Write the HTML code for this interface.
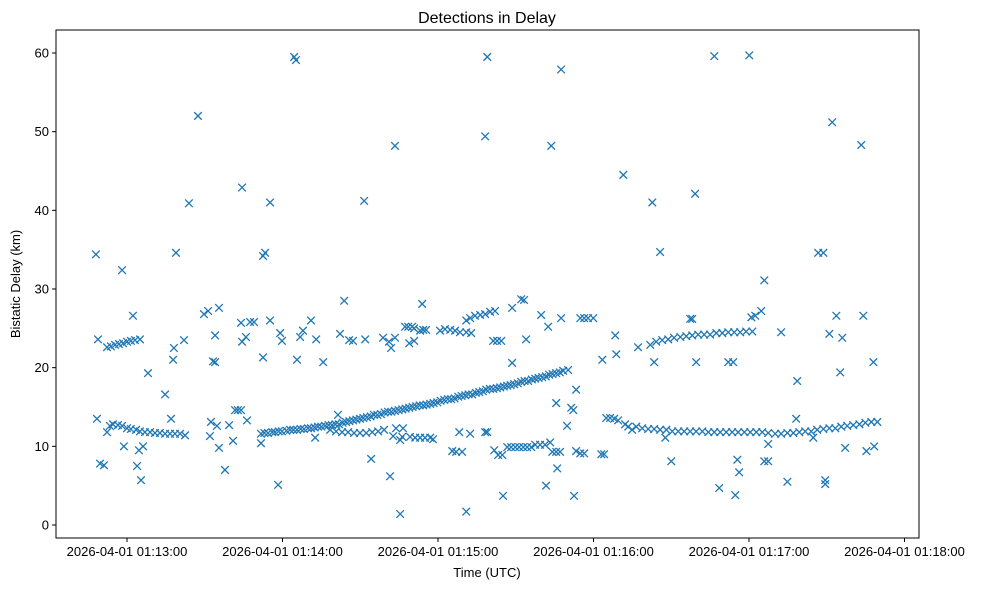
<!DOCTYPE html>
<html><head><meta charset="utf-8"><style>
body{margin:0;background:#fff;}
svg{display:block;font-family:"Liberation Sans","DejaVu Sans",sans-serif;}
</style></head><body>
<svg id="chart" width="988" height="590" viewBox="0 0 988 590">
<rect x="0" y="0" width="988" height="590" fill="#fff"/>
<text x="487" y="23" font-size="16" text-anchor="middle" fill="#000">Detections in Delay</text>
<g id="points"></g>
<rect x="56" y="30" width="863" height="508" fill="none" stroke="#000" stroke-width="1"/>
<g id="xaxis"></g>
<g id="yaxis"></g>
<text x="487" y="577" font-size="13" text-anchor="middle">Time (UTC)</text>
<text x="20" y="284" font-size="13" text-anchor="middle" transform="rotate(-90 20 284)">Bistatic Delay (km)</text>
</svg>
<script>
// seconds after 2026-04-01 01:13:00
const times = [-12.0,-11.6,-11.2,-10.4,-8.9,
-7.7,-6.6,-5.4,-3.5,-1.9,0,1.5,3.5,5.0,6.9,8.9,10.8,12.7,14.7,16.6,18.5,20.5,22.4,
-7.7,-6.2,-4.6,-3.1,-1.5,0,1.5,3.1,5.0,
-1.9,2.3,-1.2,3.9,4.6,5.4,6.2,8.1,14.7,17.0,17.8,18.1,18.9,22.0,23.9,27.4,29.7,31.3,32.0,32.4,33.2,34.0,34.0,35.5,34.7,35.5,37.8,39.4,40.9,41.7,42.8,44.0,44.4,44.4,44.0,45.9,46.3,47.5,49.0,51.7,52.5,53.3,52.5,55.2,55.2,58.3,59.1,59.8,64.5,65.2,65.6,66.8,67.9,71.0,72.6,73.0,75.7,81.4,83.8,82.2,85.7,87.2,91.5,91.9,94.2,98.8,101.1,101.5,101.9,103.4,103.4,105.4,105.4,107.3,108.5,110.0,110.8,113.1,114.3,108.9,110.8,103.8,106.5,102.7,106.2,109.2,111.2,113.1,115.0,117.0,113.9,115.4,118.1,
78.4,80.7,83.0,85.3,87.6,89.9,92.3,94.6,96.9,99.2,
51.7,54.4,57.1,59.8,62.9,65.6,68.3,71.0,73.7,76.4,79.1,81.8,84.5,87.2,89.9,92.6,95.3,98.0,100.7,103.4,106.2,108.9,111.6,114.3,117.0,119.7,122.4,125.1,127.8,130.5,133.2,135.9,138.6,141.3,144.0,146.7,149.4,152.1,154.8,157.5,160.2,162.9,165.6,168.3,170.2,
53.0,56.0,58.5,61.5,64.2,67.0,69.8,72.4,75.0,77.8,80.4,83.2,85.8,88.5,91.2,94.0,96.6,99.4,102.0,104.8,107.5,110.2,112.9,115.6,118.3,121.0,123.8,126.4,129.1,131.8,134.6,137.3,140.0,142.7,145.4,148.0,150.8,153.4,156.2,158.8,161.6,164.2,167.0,
120.8,122.7,124.7,126.6,128.5,130.9,132.8,
130.9,132.4,134.3,136.3,138.2,140.1,142.0,
139.0,138.2,138.2,139.0,130.9,125.5,127.0,129.3,128.2,132.4,141.3,142.8,144.4,141.7,143.2,144.8,145.1,
146.7,148.2,149.8,151.3,152.9,154.4,156.0,157.5,159.4,161.3,
148.6,148.6,152.1,153.2,154.0,159.8,162.5,161.7,163.3,164.1,165.6,167.1,163.7,166.0,165.6,167.5,167.5,169.8,171.4,172.2,172.5,173.3,173.3,174.9,176.4,174.9,176.4,177.9,179.9,183.0,184.1,183.4,184.9,186.4,188.0,189.5,188.4,188.8,191.5,192.2,193.4,194.9,197.2,
201.9,204.2,206.5,208.8,211.1,213.5,215.8,218.1,220.4,222.7,225.0,227.4,229.7,232.0,234.3,236.6,238.9,241.3,
202.7,203.4,205.7,207.7,210.0,217.3,218.1,219.2,219.6,226.6,228.5,232.0,233.9,234.7,235.5,236.2,240.1,240.9,242.4,244.7,245.9,245.9,247.4,247.4,252.4,254.8,258.6,258.2,264.8,266.7,268.7,269.4,269.4,271.0,272.1,273.7,275.2,276.0,277.1,283.3,284.1,285.3,288.0,288.3,
196.5,198.8,201.1,203.4,205.7,208.1,210.4,212.7,215.0,217.3,219.6,222.0,224.3,226.6,228.9,231.2,233.5,235.8,238.2,240.5,242.8,245.1,247.4,
250.1,252.4,254.8,257.1,259.4,261.7,264.0,266.3,268.7,271.0,273.3,275.6,277.9,280.2,282.6,284.9,287.2,289.5];
const delays = [34.4,13.5,23.6,7.8,7.6,
11.8,12.6,12.8,12.7,12.6,12.3,12.2,12.1,11.9,11.8,11.8,11.7,11.7,11.6,11.6,11.6,11.6,11.4,
22.6,22.7,22.9,23.0,23.1,23.3,23.4,23.5,23.6,
32.4,26.6,10.0,7.5,9.5,5.7,10.0,19.3,16.6,13.5,21.0,22.5,34.6,23.5,40.9,52.0,26.8,27.2,11.3,13.1,20.8,20.7,24.1,27.6,12.6,9.8,7.0,12.7,10.7,14.6,14.6,14.6,42.9,23.3,25.7,23.9,13.3,25.8,25.8,10.4,34.2,34.6,21.3,41.0,26.0,5.1,24.4,23.4,59.5,59.1,21.0,23.9,24.7,26.0,11.1,23.6,20.7,14.0,28.5,24.3,23.5,23.4,41.2,23.6,8.4,23.8,23.3,6.2,22.5,48.2,23.8,1.4,10.8,25.2,25.2,25.2,25.0,24.7,24.8,23.1,23.4,12.3,12.3,11.3,11.2,11.2,11.1,11.1,11.1,11.1,28.1,24.8,10.9,
12.1,11.9,11.8,11.8,11.7,11.7,11.7,11.8,11.9,12.1,
11.6,11.7,11.8,11.9,12.1,12.1,12.2,12.3,12.5,12.6,12.7,12.8,13.1,13.3,13.5,13.7,14.0,14.1,14.4,14.5,14.7,14.9,15.1,15.2,15.4,15.6,15.9,16.0,16.3,16.5,16.6,16.9,17.2,17.3,17.5,17.7,17.9,18.2,18.3,18.6,18.8,19.1,19.3,19.6,19.7,
11.7,11.8,11.9,12.0,12.1,12.2,12.3,12.4,12.5,12.7,12.8,13.0,13.2,13.4,13.6,13.8,14.0,14.3,14.4,14.6,14.8,15.0,15.2,15.3,15.5,15.8,16.0,16.1,16.4,16.6,16.8,17.0,17.3,17.4,17.6,17.8,18.0,18.3,18.5,18.7,18.9,19.2,19.4,
24.7,24.9,24.8,24.7,24.5,24.5,24.4,
26.0,26.3,26.6,26.7,26.8,27.1,27.2,
59.5,49.4,11.8,11.8,1.7,9.4,9.3,9.3,11.8,11.6,23.4,23.4,23.4,9.5,8.9,8.9,3.7,
9.9,9.9,9.9,9.9,9.9,9.9,9.9,10.2,10.2,10.2,
27.6,20.6,28.7,28.6,23.6,26.7,25.2,5.0,10.5,9.3,9.3,9.3,48.2,7.2,15.5,57.9,26.3,12.6,14.9,14.6,3.7,17.2,9.4,9.1,9.1,26.3,26.3,26.3,26.3,9.0,9.0,21.0,13.6,13.6,13.5,13.3,24.1,21.7,44.5,12.8,12.5,12.1,22.6,
22.9,23.3,23.5,23.6,23.8,23.9,24.0,24.1,24.2,24.2,24.2,24.4,24.4,24.5,24.5,24.5,24.6,24.6,
41.0,20.7,34.7,11.1,8.1,26.2,26.2,42.1,20.7,59.6,4.7,20.7,20.7,3.8,8.3,6.7,59.7,26.4,26.6,27.2,31.1,8.1,8.1,10.3,24.5,5.5,18.3,13.5,11.1,34.6,34.6,5.7,5.2,24.3,51.2,26.6,19.4,23.8,9.8,48.3,26.6,9.4,20.7,10.0,
12.5,12.3,12.2,12.2,12.1,12.1,11.9,11.9,11.9,11.9,11.9,11.9,11.8,11.8,11.8,11.8,11.8,11.8,11.8,11.8,11.8,11.8,11.7,
11.6,11.6,11.7,11.7,11.8,11.9,11.9,12.1,12.2,12.3,12.3,12.5,12.6,12.7,12.8,13.0,13.1,13.1];
const xTicks = [0,60,120,180,240,300];
const xTickLabels = ["2026-04-01 01:13:00","2026-04-01 01:14:00","2026-04-01 01:15:00","2026-04-01 01:16:00","2026-04-01 01:17:00","2026-04-01 01:18:00"];
const yTicks = [0,10,20,30,40,50,60];

const NS="http://www.w3.org/2000/svg";
function xs(t){return 127 + t*155.5/60;}
function ys(v){return 525 - v*472/60;}
function mk(tag,attrs,parent){const e=document.createElementNS(NS,tag);for(const k in attrs)e.setAttribute(k,attrs[k]);parent.appendChild(e);return e;}

const pg=document.getElementById('points');
for(let i=0;i<times.length;i++){
  const x=xs(times[i]), y=ys(delays[i]), s=3.8;
  const p=mk('path',{d:`M${x-s},${y-s}L${x+s},${y+s}M${x-s},${y+s}L${x+s},${y-s}`,stroke:'#1f77b4','stroke-width':1.3,fill:'none'},pg);
  
  
}
const xg=document.getElementById('xaxis');
xTicks.forEach((t,i)=>{
  const x=xs(t);
  const l=mk('line',{x1:x,x2:x,y1:538,y2:542,stroke:'#000'},xg);
  
  
  const tx=mk('text',{x:x,y:556,'font-size':13,'text-anchor':'middle'},xg);
  tx.textContent=xTickLabels[i];
  
  
});
const yg=document.getElementById('yaxis');
yTicks.forEach(v=>{
  const y=ys(v);
  const l=mk('line',{x1:52,x2:56,y1:y,y2:y,stroke:'#000'},yg);
  
  
  const tx=mk('text',{x:49,y:y+4.5,'font-size':13,'text-anchor':'end'},yg);
  tx.textContent=v;
  
  
});
</script>
</body></html>
